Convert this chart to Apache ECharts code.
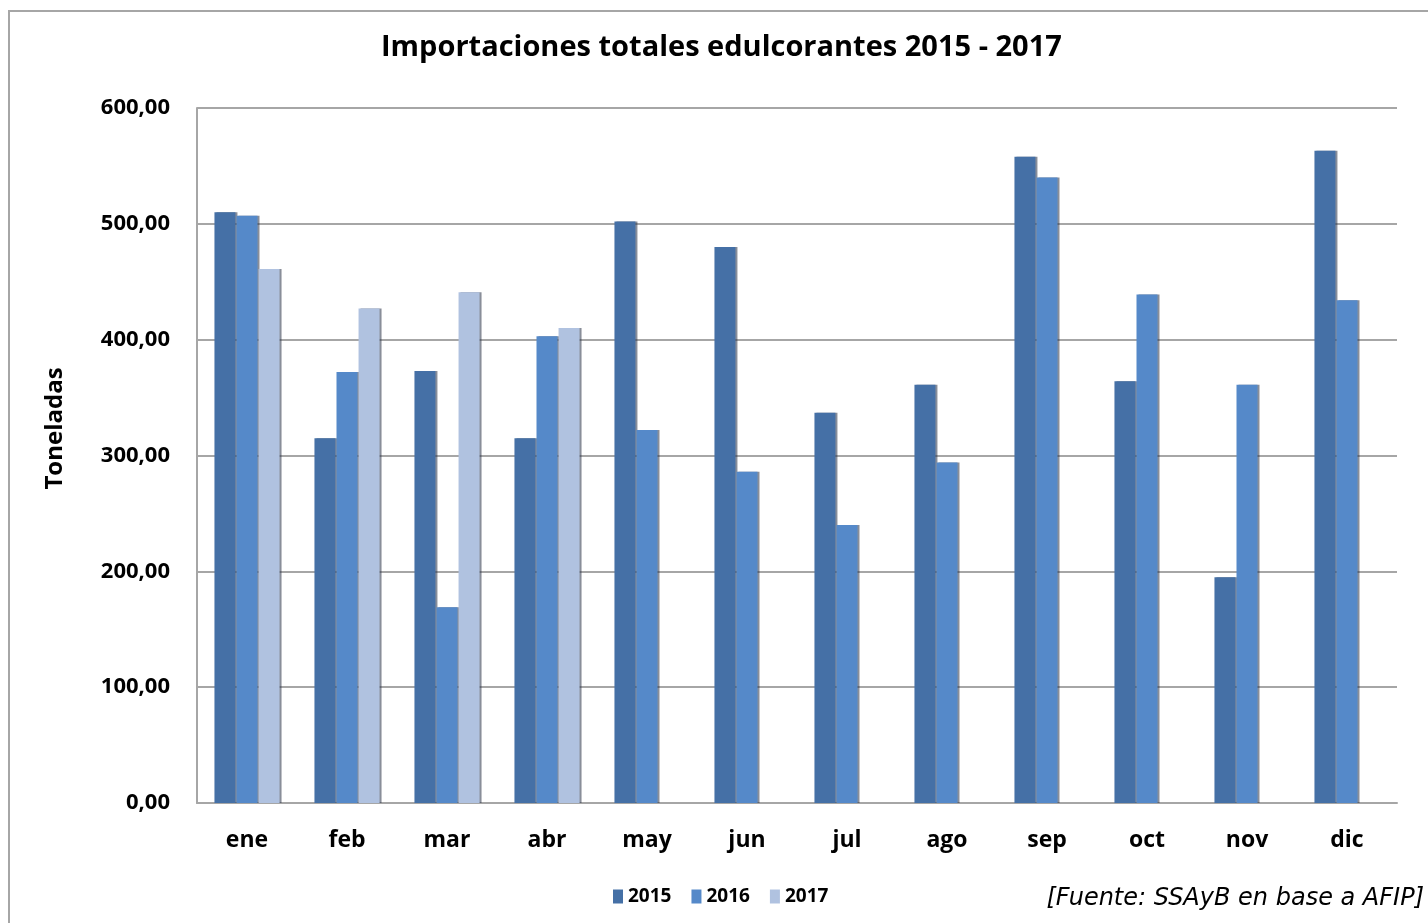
<!DOCTYPE html>
<html>
<head>
<meta charset="utf-8">
<script src="https://cdn.jsdelivr.net/npm/echarts@6/dist/echarts.min.js"></script>
<style>
  html, body { margin: 0; padding: 0; background: #fff; }
  #chart { width: 1428px; height: 923px; }
</style>
</head>
<body>
<div id="chart"></div>
<script>
// meses y valores (toneladas)
var months = ["ene", "feb", "mar", "abr", "may", "jun", "jul", "ago", "sep", "oct", "nov", "dic"];
var v2015 = [510, 315, 373, 315, 502, 480, 337, 361, 558, 364, 195, 563];
var v2016 = [507, 372, 169, 403, 322, 286, 240, 294, 540, 439, 361, 434];
var v2017 = [461, 427, 441, 410, null, null, null, null, null, null, null, null];
var yTicks = [0, 100, 200, 300, 400, 500, 600];

var colors = ["#4570A6", "#5589C9", "#B0C2E0"];

function barSeries(name, data, color) {
  return {
    name: name,
    type: "bar",
    barWidth: 21,
    barGap: "5%",
    data: data,
    itemStyle: {
      color: color,
      shadowColor: "rgba(40,50,70,0.55)",
      shadowOffsetX: 2,
      shadowOffsetY: 0,
      shadowBlur: 0
    }
  };
}

var chart = echarts.init(document.getElementById("chart"));
chart.setOption({
  backgroundColor: "#fff",
  animation: false,
  textStyle: { fontFamily: "Open Sans" },
  title: {
    text: "Importaciones totales edulcorantes 2015 - 2017",
    left: 376,
    top: 28,
    textStyle: { fontSize: 29, fontWeight: "bold", color: "#000", fontFamily: "Open Sans" }
  },
  legend: {
    bottom: 12,
    left: 608,
    icon: "rect",
    itemWidth: 10,
    itemHeight: 14,
    itemGap: 20,
    textStyle: { fontSize: 19, fontWeight: "bold", color: "#000" },
    data: ["2015", "2016", "2017"]
  },
  graphic: [
    {
      type: "rect",
      shape: { x: 9, y: 11, width: 1440, height: 940 },
      style: { fill: "none", stroke: "#A6A6A6", lineWidth: 2 }
    },
    {
      type: "text",
      right: 4,
      top: 887,
      style: {
        text: "[Fuente: SSAyB en base a AFIP]",
        font: "italic 24px 'DejaVu Sans'",
        fill: "#000"
      }
    }
  ],
  grid: { left: 197, right: 31, top: 108, bottom: 120 },
  xAxis: {
    type: "category",
    data: months,
    axisTick: { show: false },
    axisLine: { lineStyle: { color: "#A6A6A6", width: 2 } },
    axisLabel: { fontSize: 23, fontWeight: "bold", color: "#000", margin: 26 }
  },
  yAxis: {
    type: "value",
    min: yTicks[0],
    max: yTicks[yTicks.length - 1],
    interval: 100,
    name: "Toneladas",
    nameLocation: "middle",
    nameGap: 130,
    nameTextStyle: { fontSize: 24, fontWeight: "bold", color: "#000", padding: [0, 0, 0, 54] },
    axisLine: { show: true, lineStyle: { color: "#A6A6A6", width: 2 } },
    axisTick: { show: false },
    splitLine: { lineStyle: { color: "#A6A6A6", width: 2 } },
    axisLabel: {
      fontSize: 22,
      fontWeight: "bold",
      color: "#000",
      margin: 27,
      formatter: function (v) { return v.toFixed(2).replace(".", ","); }
    }
  },
  color: colors,
  series: [
    barSeries("2015", v2015, colors[0]),
    barSeries("2016", v2016, colors[1]),
    barSeries("2017", v2017, colors[2])
  ]
});
</script>
</body>
</html>
